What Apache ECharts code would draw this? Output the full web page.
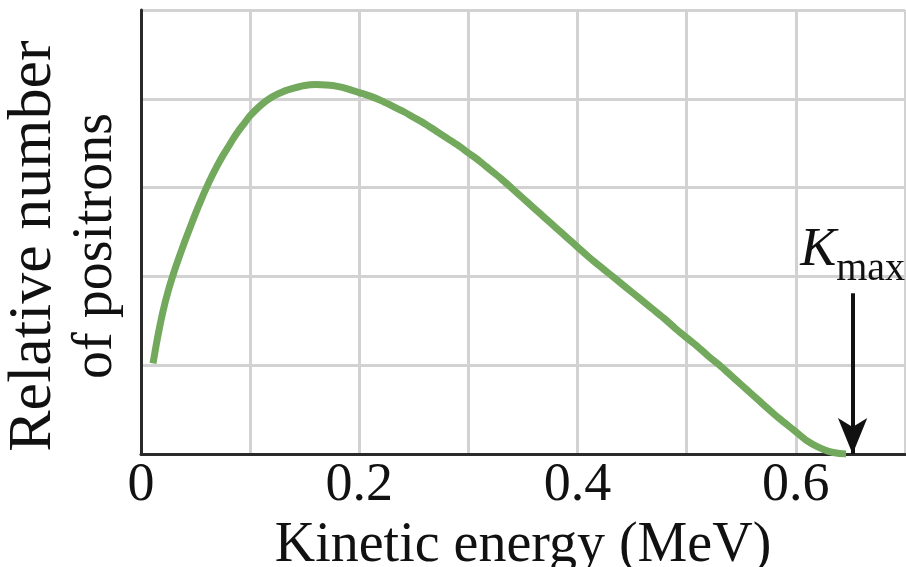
<!DOCTYPE html>
<html>
<head>
<meta charset="utf-8">
<script src="https://cdn.jsdelivr.net/npm/echarts@6/dist/echarts.min.js"></script>
<style>
html,body{margin:0;padding:0;background:#fff;}
#chart{width:906px;height:567px;}
</style>
</head>
<body>
<div id="chart"></div>
<script>
// Kinetic energy (MeV)
const energy = [0.011, 0.015, 0.02, 0.025, 0.03, 0.035, 0.04, 0.045, 0.05, 0.055, 0.06, 0.065, 0.07, 0.075, 0.08, 0.085, 0.09, 0.095, 0.1,
  0.11, 0.12, 0.13, 0.14, 0.15, 0.16, 0.17, 0.18, 0.19, 0.2, 0.21, 0.22, 0.23, 0.24, 0.25, 0.26, 0.27, 0.28, 0.29, 0.3,
  0.31, 0.32, 0.33, 0.34, 0.35, 0.36, 0.37, 0.38, 0.39, 0.4, 0.41, 0.42, 0.43, 0.44, 0.45, 0.46, 0.47, 0.48, 0.49, 0.5,
  0.51, 0.52, 0.53, 0.54, 0.55, 0.56, 0.57, 0.58, 0.59, 0.6, 0.61, 0.62, 0.63, 0.64, 0.646];
// Relative number of positrons
const positrons = [1.02, 1.30, 1.60, 1.84, 2.04, 2.22, 2.39, 2.55, 2.71, 2.86, 3.00, 3.13, 3.25, 3.36, 3.46, 3.56, 3.65, 3.73, 3.81,
  3.93, 4.02, 4.08, 4.12, 4.15, 4.16, 4.155, 4.14, 4.11, 4.07, 4.03, 3.98, 3.92, 3.86, 3.79, 3.72, 3.64, 3.56, 3.48, 3.39,
  3.30, 3.20, 3.10, 2.99, 2.88, 2.77, 2.66, 2.55, 2.44, 2.33, 2.22, 2.12, 2.02, 1.92, 1.82, 1.72, 1.62, 1.52, 1.41, 1.31,
  1.21, 1.10, 1.00, 0.89, 0.78, 0.67, 0.56, 0.45, 0.35, 0.25, 0.15, 0.08, 0.03, 0.005, 0.0];
const xTickLabels = ['0', '0.2', '0.4', '0.6'];
const kMax = 0.652;
const arrowTop = 1.81;

const serif = 'Liberation Serif';
const chart = echarts.init(document.getElementById('chart'));
chart.setOption({
  animation: false,
  backgroundColor: '#fff',
  grid: { left: 141, top: 10, right: 1, bottom: 113, containLabel: false, outerBoundsMode: 'none' },
  xAxis: {
    type: 'value', min: 0, max: 0.7, interval: 0.1,
    name: 'Kinetic energy (MeV)', nameLocation: 'middle', nameGap: 54,
    nameTextStyle: { fontFamily: serif, fontSize: 56, lineHeight: 56, color: '#111' },
    axisLine: { show: true, lineStyle: { color: '#2a2a2a', width: 3 } },
    axisTick: { show: false },
    splitLine: { show: true, lineStyle: { color: '#d2d2d2', width: 3 } },
    axisLabel: {
      fontFamily: serif, fontSize: 54, lineHeight: 54, color: '#111', margin: 5,
      formatter: function (v) {
        const r = Math.round(v * 10);
        return (r % 2 === 0 && r / 2 < xTickLabels.length) ? xTickLabels[r / 2] : '';
      }
    }
  },
  yAxis: {
    type: 'value', min: 0, max: 5, interval: 1,
    name: '{a|Relative number}\n{b|of positrons}', nameLocation: 'middle', nameRotate: 90, nameGap: 13,
    nameTextStyle: {
      fontFamily: serif, color: '#111', padding: [0, 28, 0, 0],
      rich: {
        a: { fontFamily: serif, fontSize: 62, lineHeight: 63, color: '#111' },
        b: { fontFamily: serif, fontSize: 56, lineHeight: 63, color: '#111' }
      }
    },
    axisLine: { show: true, lineStyle: { color: '#2a2a2a', width: 3 } },
    axisTick: { show: false },
    axisLabel: { show: false },
    splitLine: { show: true, lineStyle: { color: '#d2d2d2', width: 3 } }
  },
  series: [{
    type: 'line',
    data: energy.map((e, i) => [e, positrons[i]]),
    smooth: 0.3,
    showSymbol: false,
    lineStyle: { color: '#72a95c', width: 7 },
    markLine: {
      silent: true,
      symbol: ['none', 'arrow'],
      symbolSize: [22, 36],
      lineStyle: { color: '#111', width: 4, type: 'solid' },
      label: {
        show: true, position: 'start', distance: 4,
        formatter: '{k|K}{m|max}',
        rich: {
          k: { fontFamily: serif, fontSize: 54, fontStyle: 'italic', color: '#111', lineHeight: 54, verticalAlign: 'top' },
          m: { fontFamily: serif, fontSize: 40, color: '#111', lineHeight: 65, verticalAlign: 'bottom' }
        }
      },
      data: [[{ coord: [kMax, arrowTop] }, { coord: [kMax, 0] }]]
    }
  }]
});
</script>
</body>
</html>
